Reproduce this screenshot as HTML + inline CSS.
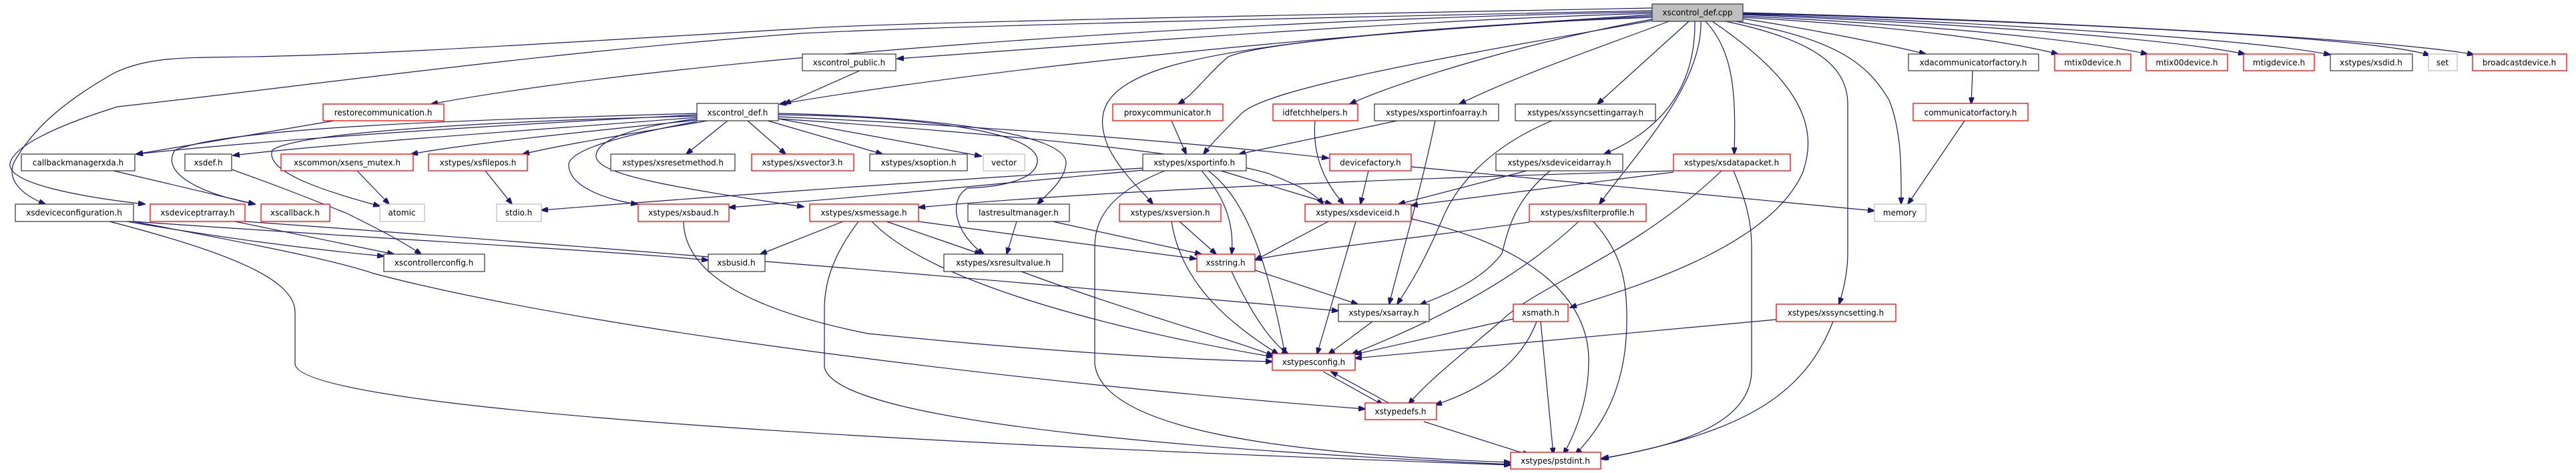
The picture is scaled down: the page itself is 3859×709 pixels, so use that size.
<!DOCTYPE html>
<html><head><meta charset="utf-8"><style>
html,body{margin:0;padding:0;background:#fff;}
svg{display:block;}
text{font-family:"DejaVu Sans","Liberation Sans",sans-serif;font-size:12px;fill:#000;}
.n rect{fill:#fff;stroke:#404040;stroke-width:1.3;}
.r rect{fill:#fff;stroke:#ff0000;stroke-width:1.3;}
.g rect{fill:#fff;stroke:#bfbfbf;stroke-width:1.3;}
.e path{fill:none;stroke:#191970;stroke-width:1.2;}
</style></head><body>
<svg width="3859" height="709" viewBox="0 0 3859 709" xmlns="http://www.w3.org/2000/svg">
<defs>
<marker id="a" markerWidth="11" markerHeight="8" refX="10" refY="4" orient="auto" markerUnits="userSpaceOnUse">
<path d="M0,0 L11,4 L0,8 z" fill="#191970" stroke="#191970"/>
</marker>
</defs>
<g class="e" marker-end="url(#a)">
<!-- from cpp -->
<path d="M2475,20 C2100,30 1600,70 1344,88" marker-end="url(#a)"/>
<path d="M2475,24 C2000,50 1500,100 1168,156" marker-end="url(#a)"/>
<path d="M2475,18 C1800,30 1000,90 646,156" marker-end="url(#a)"/>
<path d="M2475,12 C1800,25 1300,35 1200,43 C900,60 600,80 420,84 C300,88 230,80 170,110 C100,150 50,190 20,245 C10,275 40,295 68,306" marker-end="url(#a)"/>
<path d="M2475,16 C1800,30 1400,40 1200,50 C800,80 450,130 176,160 C80,190 20,220 15,245 C10,275 120,295 217,306" marker-end="url(#a)"/>
<path d="M2475,22 C2200,40 1900,60 1840,85 C1810,110 1790,140 1765,156" marker-end="url(#a)"/>
<path d="M2480,30 C2200,80 1900,130 1860,170 C1830,200 1815,215 1803,231" marker-end="url(#a)"/>
<path d="M2476,26 C2100,40 1850,70 1750,100 C1650,130 1640,170 1660,220 C1680,260 1710,285 1727,306" marker-end="url(#a)"/>
<path d="M2480,28 C2300,60 2100,120 2022,156" marker-end="url(#a)"/>
<path d="M2500,32 C2400,70 2280,110 2186,156" marker-end="url(#a)"/>
<path d="M2530,32 L2393,156" marker-end="url(#a)"/>
<path d="M2539,32 C2540,120 2500,190 2403,231" marker-end="url(#a)"/>
<path d="M2548,32 C2550,130 2450,230 2396,306" marker-end="url(#a)"/>
<path d="M2555,32 C2600,80 2600,150 2598,231" marker-end="url(#a)"/>
<path d="M2565,32 C2680,110 2730,180 2700,260 C2650,370 2450,430 2352,461" marker-end="url(#a)"/>
<path d="M2585,32 C2720,60 2770,100 2768,160 L2768,380 C2768,410 2760,440 2755,456" marker-end="url(#a)"/>
<path d="M2600,32 C2760,60 2800,100 2830,150 C2850,200 2848,260 2848,306" marker-end="url(#a)"/>
<path d="M2611,28 C2720,45 2820,65 2885,81" marker-end="url(#a)"/>
<path d="M2611,26 C2850,40 3000,60 3083,81" marker-end="url(#a)"/>
<path d="M2611,24 C2900,38 3120,60 3217,81" marker-end="url(#a)"/>
<path d="M2611,22 C2950,36 3250,58 3363,81" marker-end="url(#a)"/>
<path d="M2611,21 C3000,34 3380,60 3491,82" marker-end="url(#a)"/>
<path d="M2611,20 C3050,32 3560,55 3640,83" marker-end="url(#a)"/>
<path d="M2611,19 C3050,30 3600,60 3706,82" marker-end="url(#a)"/>
<!-- misc top -->
<path d="M1288,106 L1175,156" marker-end="url(#a)"/>
<path d="M500,181 C420,195 300,215 204,231" marker-end="url(#a)"/>
<path d="M2955,106 L2953,156" marker-end="url(#a)"/>
<path d="M2943,181 L2858,306" marker-end="url(#a)"/>
<!-- from xscontrol_def.h -->
<path d="M1044,172 C700,190 400,210 204,231" marker-end="url(#a)"/>
<path d="M1044,176 C800,195 500,215 349,233" marker-end="url(#a)"/>
<path d="M1044,170 C700,180 350,190 262,225 C240,260 300,290 382,306" marker-end="url(#a)"/>
<path d="M1044,174 C800,180 450,195 408,225 C395,260 500,290 569,309" marker-end="url(#a)"/>
<path d="M1044,180 C900,195 700,215 616,231" marker-end="url(#a)"/>
<path d="M1060,181 C950,200 850,215 783,231" marker-end="url(#a)"/>
<path d="M1090,181 L1028,231" marker-end="url(#a)"/>
<path d="M1120,181 L1177,231" marker-end="url(#a)"/>
<path d="M1150,181 L1322,231" marker-end="url(#a)"/>
<path d="M1166,178 L1470,234" marker-end="url(#a)"/>
<path d="M1044,182 C950,200 860,220 852,245 C850,280 910,300 955,306" marker-end="url(#a)"/>
<path d="M1044,178 C950,190 890,210 893,236 C900,262 1000,280 1204,310" marker-end="url(#a)"/>
<path d="M1166,170 C1400,175 1600,200 1597,245 C1595,270 1570,290 1554,306" marker-end="url(#a)"/>
<path d="M1166,172 C1400,175 1560,200 1554,243 C1550,270 1500,280 1449,282 C1420,300 1430,350 1474,381" marker-end="url(#a)"/>
<path d="M1166,175 C1500,190 1800,215 1990,237" marker-end="url(#a)"/>
<path d="M1166,178 C1500,200 1800,230 1900,260 C1950,280 1970,290 1982,306" marker-end="url(#a)"/>
<!-- others -->
<path d="M170,256 L382,306" marker-end="url(#a)"/>
<path d="M535,256 L583,306" marker-end="url(#a)"/>
<path d="M727,256 L767,306" marker-end="url(#a)"/>
<path d="M347,254 C420,280 470,300 520,320 C560,340 600,360 631,381" marker-end="url(#a)"/>
<path d="M190,332 C350,360 480,375 575,384" marker-end="url(#a)"/>
<path d="M352,332 L590,381" marker-end="url(#a)"/>
<path d="M367,332 C900,370 1500,420 2005,466" marker-end="url(#a)"/>
<path d="M200,332 C600,360 900,375 1061,390" marker-end="url(#a)"/>
<path d="M200,332 C400,370 500,390 560,410 C900,500 1600,580 2045,613" marker-end="url(#a)"/>
<path d="M164,332 C350,380 442,420 442,468 L442,545 C442,620 1500,670 2263,697" marker-end="url(#a)"/>
<path d="M1755,181 L1777,231" marker-end="url(#a)"/>
<path d="M2093,181 L1856,231" marker-end="url(#a)"/>
<path d="M1970,181 C1965,240 1990,280 2013,306" marker-end="url(#a)"/>
<path d="M1712,252 C1400,270 1000,300 811,315" marker-end="url(#a)"/>
<path d="M1712,255 C1500,275 1300,295 1092,311" marker-end="url(#a)"/>
<path d="M1829,256 L1995,306" marker-end="url(#a)"/>
<path d="M1800,256 C1830,290 1850,330 1845,381" marker-end="url(#a)"/>
<path d="M1810,256 C1870,300 1900,400 1925,531" marker-end="url(#a)"/>
<path d="M1745,256 C1660,290 1640,330 1640,370 L1640,545 C1650,640 1900,680 2263,693" marker-end="url(#a)"/>
<path d="M1263,332 L1139,381" marker-end="url(#a)"/>
<path d="M1328,332 L1470,381" marker-end="url(#a)"/>
<path d="M1376,332 C1500,350 1700,375 1792,388" marker-end="url(#a)"/>
<path d="M1306,332 C1400,430 1700,500 1907,535" marker-end="url(#a)"/>
<path d="M1286,332 C1250,380 1235,420 1235,464 L1235,550 C1250,640 1900,680 2263,696" marker-end="url(#a)"/>
<path d="M2507,256 C2000,270 1600,290 1376,311" marker-end="url(#a)"/>
<path d="M1523,332 L1508,381" marker-end="url(#a)"/>
<path d="M1577,332 L1800,381" marker-end="url(#a)"/>
<path d="M1767,332 L1822,381" marker-end="url(#a)"/>
<path d="M1755,332 C1770,430 1850,490 1915,531" marker-end="url(#a)"/>
<path d="M1880,405 L2034,456" marker-end="url(#a)"/>
<path d="M1845,407 C1870,460 1900,510 1930,531" marker-end="url(#a)"/>
<path d="M1530,407 C1700,470 1850,510 1907,533" marker-end="url(#a)"/>
<path d="M1024,332 C1025,400 1100,460 1300,500 C1600,530 1800,540 1906,542" marker-end="url(#a)"/>
<path d="M1990,332 L1880,390" marker-end="url(#a)"/>
<path d="M2031,332 L1973,531" marker-end="url(#a)"/>
<path d="M2114,328 C2300,370 2380,450 2380,540 C2380,600 2360,650 2342,681" marker-end="url(#a)"/>
<path d="M2050,256 L2038,306" marker-end="url(#a)"/>
<path d="M2114,250 L2808,316" marker-end="url(#a)"/>
<path d="M2287,256 L2095,306" marker-end="url(#a)"/>
<path d="M2322,256 C2270,300 2260,340 2250,380 C2220,420 2170,440 2127,457" marker-end="url(#a)"/>
<path d="M2507,258 L2114,308" marker-end="url(#a)"/>
<path d="M2579,256 C2450,380 2300,430 2250,480 C2180,540 2140,570 2110,606" marker-end="url(#a)"/>
<path d="M2597,256 C2615,300 2624,330 2624,370 L2624,555 C2624,640 2500,670 2400,687" marker-end="url(#a)"/>
<path d="M2365,332 C2250,440 2100,500 2025,531" marker-end="url(#a)"/>
<path d="M2291,333 C2100,360 1950,375 1880,389" marker-end="url(#a)"/>
<path d="M2387,332 C2430,380 2437,420 2437,480 C2437,580 2400,640 2360,681" marker-end="url(#a)"/>
<path d="M2150,181 C2130,280 2100,380 2081,456" marker-end="url(#a)"/>
<path d="M2325,181 C2230,220 2180,280 2160,330 C2130,400 2110,430 2093,456" marker-end="url(#a)"/>
<path d="M2056,482 L1990,531" marker-end="url(#a)"/>
<path d="M2267,478 L2030,531" marker-end="url(#a)"/>
<path d="M2302,482 C2280,540 2230,580 2150,607" marker-end="url(#a)"/>
<path d="M2308,482 L2327,681" marker-end="url(#a)"/>
<path d="M2661,479 L2030,537" marker-end="url(#a)"/>
<path d="M2746,482 C2700,600 2600,650 2398,688" marker-end="url(#a)"/>
<path d="M1982,557 L2072,607" marker-end="url(#a)"/>
<path d="M2084,606 L1994,557" marker-end="url(#a)"/>
<path d="M2133,632 L2291,682" marker-end="url(#a)"/>
</g>
<g text-anchor="middle">
<g><rect x="2475" y="6" width="136" height="26" fill="#bfbfbf" stroke="#404040" stroke-width="1.3"/><text x="2543" y="23">xscontrol_def.cpp</text></g>
<g class="n"><rect x="1202" y="81" width="140" height="25"/><text x="1272" y="98">xscontrol_public.h</text></g>
<g class="n"><rect x="2859" y="81" width="195" height="25"/><text x="2956" y="98">xdacommunicatorfactory.h</text></g>
<g class="r"><rect x="3078" y="81" width="114" height="25"/><text x="3135" y="98">mtix0device.h</text></g>
<g class="r"><rect x="3215" y="81" width="122" height="25"/><text x="3276" y="98">mtix00device.h</text></g>
<g class="r"><rect x="3361" y="81" width="106" height="25"/><text x="3414" y="98">mtigdevice.h</text></g>
<g class="n"><rect x="3491" y="81" width="123" height="25"/><text x="3552" y="98">xstypes/xsdid.h</text></g>
<g class="g"><rect x="3638" y="81" width="43" height="25"/><text x="3659" y="98">set</text></g>
<g class="r"><rect x="3704" y="81" width="141" height="25"/><text x="3774" y="98">broadcastdevice.h</text></g>

<g class="r"><rect x="484" y="156" width="181" height="25"/><text x="574" y="173">restorecommunication.h</text></g>
<g class="n"><rect x="1044" y="155" width="122" height="26"/><text x="1105" y="173">xscontrol_def.h</text></g>
<g class="r"><rect x="1667" y="156" width="165" height="25"/><text x="1749" y="173">proxycommunicator.h</text></g>
<g class="r"><rect x="1907" y="156" width="127" height="25"/><text x="1970" y="173">idfetchhelpers.h</text></g>
<g class="n"><rect x="2059" y="156" width="186" height="25"/><text x="2152" y="173">xstypes/xsportinfoarray.h</text></g>
<g class="n"><rect x="2270" y="156" width="210" height="25"/><text x="2375" y="173">xstypes/xssyncsettingarray.h</text></g>
<g class="r"><rect x="2866" y="155" width="172" height="26"/><text x="2952" y="173">communicatorfactory.h</text></g>

<g class="n"><rect x="32" y="231" width="170" height="25"/><text x="117" y="248">callbackmanagerxda.h</text></g>
<g class="n"><rect x="277" y="231" width="70" height="25"/><text x="312" y="248">xsdef.h</text></g>
<g class="r"><rect x="421" y="231" width="198" height="25"/><text x="520" y="248">xscommon/xsens_mutex.h</text></g>
<g class="r"><rect x="642" y="231" width="148" height="25"/><text x="716" y="248">xstypes/xsfilepos.h</text></g>
<g class="n"><rect x="915" y="231" width="186" height="25"/><text x="1008" y="248">xstypes/xsresetmethod.h</text></g>
<g class="r"><rect x="1126" y="231" width="153" height="25"/><text x="1202" y="248">xstypes/xsvector3.h</text></g>
<g class="n"><rect x="1303" y="231" width="146" height="25"/><text x="1376" y="248">xstypes/xsoption.h</text></g>
<g class="g"><rect x="1473" y="231" width="62" height="25"/><text x="1504" y="248">vector</text></g>
<g class="n"><rect x="1712" y="231" width="155" height="25"/><text x="1789" y="248">xstypes/xsportinfo.h</text></g>
<g class="r"><rect x="1992" y="231" width="122" height="25"/><text x="2053" y="248">devicefactory.h</text></g>
<g class="n"><rect x="2241" y="231" width="190" height="25"/><text x="2336" y="248">xstypes/xsdeviceidarray.h</text></g>
<g class="r"><rect x="2507" y="231" width="175" height="25"/><text x="2594" y="248">xstypes/xsdatapacket.h</text></g>

<g class="n"><rect x="23" y="306" width="177" height="26"/><text x="111" y="323">xsdeviceconfiguration.h</text></g>
<g class="r"><rect x="225" y="306" width="142" height="26"/><text x="296" y="323">xsdeviceptrarray.h</text></g>
<g class="r"><rect x="391" y="306" width="103" height="26"/><text x="442" y="323">xscallback.h</text></g>
<g class="g"><rect x="569" y="306" width="67" height="26"/><text x="602" y="323">atomic</text></g>
<g class="g"><rect x="744" y="306" width="67" height="26"/><text x="777" y="323">stdio.h</text></g>
<g class="r"><rect x="956" y="306" width="136" height="26"/><text x="1024" y="323">xstypes/xsbaud.h</text></g>
<g class="r"><rect x="1213" y="306" width="163" height="26"/><text x="1294" y="323">xstypes/xsmessage.h</text></g>
<g class="n"><rect x="1450" y="306" width="152" height="26"/><text x="1526" y="323">lastresultmanager.h</text></g>
<g class="r"><rect x="1677" y="306" width="152" height="26"/><text x="1753" y="323">xstypes/xsversion.h</text></g>
<g class="r"><rect x="1955" y="306" width="159" height="26"/><text x="2034" y="323">xstypes/xsdeviceid.h</text></g>
<g class="r"><rect x="2291" y="306" width="175" height="26"/><text x="2378" y="323">xstypes/xsfilterprofile.h</text></g>
<g class="g"><rect x="2808" y="306" width="77" height="26"/><text x="2846" y="323">memory</text></g>

<g class="n"><rect x="575" y="381" width="151" height="26"/><text x="650" y="398">xscontrollerconfig.h</text></g>
<g class="n"><rect x="1061" y="381" width="85" height="26"/><text x="1103" y="398">xsbusid.h</text></g>
<g class="n"><rect x="1414" y="381" width="178" height="26"/><text x="1503" y="398">xstypes/xsresultvalue.h</text></g>
<g class="r"><rect x="1793" y="381" width="87" height="26"/><text x="1836" y="398">xsstring.h</text></g>

<g class="n"><rect x="2005" y="456" width="136" height="26"/><text x="2073" y="473">xstypes/xsarray.h</text></g>
<g class="r"><rect x="2267" y="456" width="82" height="26"/><text x="2308" y="473">xsmath.h</text></g>
<g class="r"><rect x="2661" y="456" width="179" height="26"/><text x="2750" y="473">xstypes/xssyncsetting.h</text></g>

<g class="r"><rect x="1906" y="530" width="124" height="25"/><text x="1968" y="547">xstypesconfig.h</text></g>
<g class="r"><rect x="2045" y="604" width="107" height="25"/><text x="2098" y="621">xstypedefs.h</text></g>
<g class="r"><rect x="2263" y="678" width="135" height="25"/><text x="2330" y="695">xstypes/pstdint.h</text></g>
</g>
</svg>
</body></html>
